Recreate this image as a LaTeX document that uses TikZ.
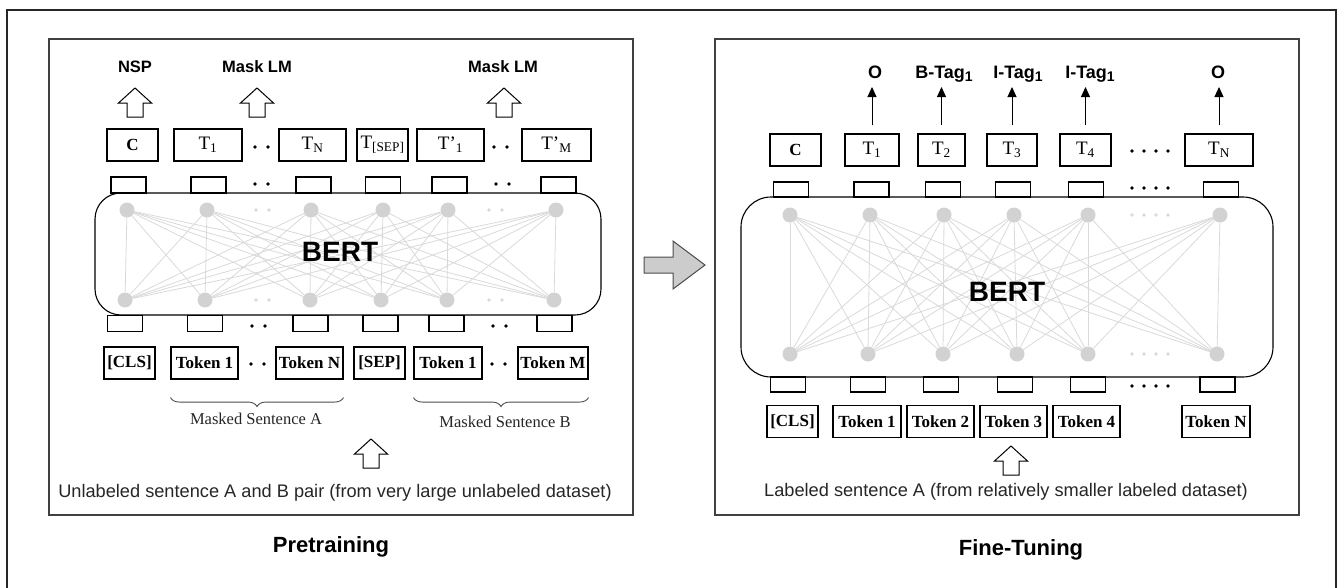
\documentclass[tikz,border=0pt]{standalone}
\usepackage{fontspec}
\setmainfont{Liberation Serif}
\setsansfont{Liberation Sans}
\usetikzlibrary{positioning,calc,arrows.meta,decorations.pathreplacing}

\tikzset{
	tbox/.style={draw, line width=1.1pt, minimum height=32pt, inner sep=0pt, font=\fontsize{17}{18}\selectfont},
	tlab/.style={tbox, font=\fontsize{19}{20}\selectfont},
	port/.style={draw, line width=1.1pt, minimum width=35pt, minimum height=16pt, inner sep=0pt},
	neuron/.style={circle, fill=gray!35, minimum size=15pt, inner sep=0pt},
	link/.style={gray!30, line width=0.8pt},
	bertbox/.style={draw, line width=1.1pt, rounded corners=26pt, inner sep=0pt},
	berttext/.style={font=\sffamily\bfseries\fontsize{28}{30}\selectfont},
	panel/.style={draw=black!75, line width=1.2pt, inner sep=0pt},
	headlab/.style={font=\sffamily\bfseries\fontsize{16.5}{18}\selectfont},
	taglab/.style={font=\sffamily\bfseries\fontsize{18}{20}\selectfont},
	intext/.style={font=\sffamily\fontsize{18.2}{20}\selectfont, text=black!85},
	subcap/.style={font=\fontsize{16.5}{18}\selectfont, text=black!85},
	caption/.style={font=\sffamily\bfseries\fontsize{22}{24}\selectfont},
	blockarr/.style={draw, line width=1pt, fill=white, line join=miter},
	tagarr/.style={-{Triangle[length=10pt,width=9pt]}, line width=1pt, shorten >=9pt},
	brace/.style={decorate, decoration={brace, mirror, amplitude=9pt}, line width=0.9pt, black!70}
}

% hollow block arrow pointing up, #1 = bottom centre
\newcommand{\hollowup}[1]{%
	\draw[blockarr] (#1) ++(-8,0) -- ++(0,-14) -- ++(-8.5,0) -- ++(16.5,-15) -- ++(16.5,15) -- ++(-8.5,0) -- ++(0,14) -- cycle;}
% a row of dots: x, y, count, colour, spacing
\newcommand{\dotrow}[5]{%
	\foreach \k in {1,...,#3} \fill[#4] ({#1+(\k-1)*#5},#2) circle (1.8pt);}
% tag subscript
\newcommand{\tagsub}{\raisebox{-0.35ex}{\fontsize{14}{14}\selectfont 1}}

\begin{document}
\begin{tikzpicture}[x=1pt, y=-1pt]
	\useasboundingbox (0,0) rectangle (1342,587);
	\draw[line width=1.5pt, black!85] (7,600) -- (7,10) -- (1336,10) -- (1336,600);

	% ---------- pretraining ----------
	\begin{scope}
		\node[panel, minimum width=584pt, minimum height=476pt] (lpanel) at (341,277) {};

		\node[headlab] (nsp) at (135,67) {NSP};
		\node[headlab] (mlm1) at (257,67) {Mask LM};
		\node[headlab] (mlm2) at (503,67) {Mask LM};
		\coordinate (nspin) at (135,117);
		\coordinate (mlm1in) at (257,117);
		\coordinate (mlm2in) at (504,117);
		\hollowup{nspin}
		\hollowup{mlm1in}
		\hollowup{mlm2in}

		\node[tbox, minimum width=51pt] (lc) at (132.5,145) {\textbf{C}};
		\node[tlab, minimum width=68pt] (lt1) at (208,145) {T\textsubscript{1}};
		\node[tlab, minimum width=67pt] (ltn) at (312.5,145) {T\textsubscript{N}};
		\node[tlab, minimum width=51pt] (ltsep) at (382.5,145) {T\textsubscript{[SEP]}};
		\node[tlab, minimum width=67pt] (ltp1) at (450.5,145) {T'\textsubscript{1}};
		\node[tlab, minimum width=69pt] (ltpm) at (556.5,145) {T'\textsubscript{M}};

		\foreach \i/\x in {1/128.5, 2/208.5, 3/313.5, 4/383, 5/449.5, 6/558.5}
			\node[port] (lpu\i) at (\x,185) {};

		\node[bertbox, minimum width=506pt, minimum height=122pt] (lbert) at (348,254) {};

		\foreach \i/\x in {1/127, 2/207, 3/311, 4/383, 5/448, 6/556}
			\node[neuron] (lu\i) at (\x,210) {};
		\foreach \i/\x in {1/125, 2/205, 3/310, 4/381, 5/447, 6/554}
			\node[neuron] (ld\i) at (\x,300) {};
		\foreach \i in {1,...,6}
			\foreach \j in {1,...,6}
				\draw[link] (lu\i) -- (ld\j);
		\node[berttext] (lberttxt) at (340,252) {BERT};

		\foreach \i/\x in {1/125, 2/205, 3/310.5, 4/380.5, 5/446.5, 6/554.5}
			\node[port] (lpd\i) at (\x,323.5) {};

		\node[tbox, minimum width=51pt] (lcls) at (129.5,363) {\textbf{[CLS]}};
		\node[tbox, minimum width=67pt] (ltok1) at (204.5,363) {\textbf{Token 1}};
		\node[tbox, minimum width=67pt] (ltokn) at (309.5,363) {\textbf{Token N}};
		\node[tbox, minimum width=51pt] (lsep) at (379.5,363) {\textbf{[SEP]}};
		\node[tbox, minimum width=68pt] (ltokb1) at (448,363) {\textbf{Token 1}};
		\node[tbox, minimum width=70pt] (ltokm) at (553,363) {\textbf{Token M}};

		% dots
		\dotrow{255}{147}{2}{black}{13}
		\dotrow{494}{147}{2}{black}{13}
		\dotrow{255}{184}{2}{black}{13}
		\dotrow{496}{184}{2}{black}{13}
		\dotrow{256}{210}{2}{gray!30}{13}
		\dotrow{489}{210}{2}{gray!30}{13}
		\dotrow{256}{300}{2}{gray!30}{13}
		\dotrow{489}{300}{2}{gray!30}{13}
		\dotrow{252}{326}{2}{black}{13}
		\dotrow{493}{326}{2}{black}{13}
		\dotrow{251}{364}{2}{black}{13}
		\dotrow{492}{364}{2}{black}{13}

		\draw[brace] ([yshift=-18pt]ltok1.south west) -- ([yshift=-18pt]ltokn.south east);
		\draw[brace] ([yshift=-18pt]ltokb1.south west) -- ([yshift=-18pt]ltokm.south east);
		\node[subcap] (lsenta) at (256,419) {Masked Sentence A};
		\node[subcap] (lsentb) at (505,422) {Masked Sentence B};

		\coordinate (lin) at (371,468);
		\hollowup{lin}
		\node[intext] (lintxt) at (335,493) {Unlabeled sentence A and B pair (from very large unlabeled dataset)};

		\node[caption] (pre) at (331,547) {Pretraining};
	\end{scope}

	% transfer arrow
	\draw[fill=gray!40, draw=black!70, line width=1pt] (644,257) -- (673,257) -- (673,241) -- (705,265) -- (673,289) -- (673,273) -- (644,273) -- cycle;

	% ---------- fine-tuning ----------
	\begin{scope}
		\node[panel, minimum width=584pt, minimum height=476pt] (rpanel) at (1007,277) {};

		\node[taglab, anchor=base] (tag1) at (875,78) {O};
		\node[taglab, anchor=base] (tag2) at (944,78) {B-Tag\tagsub};
		\node[taglab, anchor=base] (tag3) at (1018,78) {I-Tag\tagsub};
		\node[taglab, anchor=base] (tag4) at (1090,78) {I-Tag\tagsub};
		\node[taglab, anchor=base] (tag5) at (1218,78) {O};

		\node[tbox, minimum width=51pt] (rc) at (795.5,150) {\textbf{C}};
		\node[tlab, minimum width=54pt] (rt1) at (872,150) {T\textsubscript{1}};
		\node[tlab, minimum width=47pt] (rt2) at (941.5,150) {T\textsubscript{2}};
		\node[tlab, minimum width=50pt] (rt3) at (1012,150) {T\textsubscript{3}};
		\node[tlab, minimum width=51pt] (rt4) at (1085.5,150) {T\textsubscript{4}};
		\node[tlab, minimum width=68pt] (rtn) at (1219,150) {T\textsubscript{N}};

		\draw[tagarr] ([yshift=8pt]rt1.north) -- (rt1.north |- tag1.base);
		\draw[tagarr] ([yshift=8pt]rt2.north) -- (rt2.north |- tag2.base);
		\draw[tagarr] ([yshift=8pt]rt3.north) -- (rt3.north |- tag3.base);
		\draw[tagarr] ([yshift=8pt]rt4.north) -- (rt4.north |- tag4.base);
		\draw[tagarr] ([yshift=8pt]rtn.north) -- (rtn.north |- tag5.base);

		\foreach \i/\x in {1/791, 2/871.5, 3/943, 4/1013, 5/1086, 6/1221}
			\node[port, minimum height=15pt] (rpu\i) at (\x,189.5) {};

		\node[bertbox, rounded corners=30pt, minimum width=532pt, minimum height=180pt] (rbert) at (1007,287) {};

		\foreach \i/\x in {1/790, 2/870, 3/944, 4/1014, 5/1088, 6/1220}
			\node[neuron] (ru\i) at (\x,215) {};
		\foreach \i/\x in {1/790, 2/868, 3/943, 4/1017, 5/1088, 6/1217}
			\node[neuron] (rd\i) at (\x,354) {};
		\foreach \i in {1,...,6}
			\foreach \j in {1,...,6}
				\draw[link] (ru\i) -- (rd\j);
		\node[berttext] (rberttxt) at (1007,292) {BERT};

		\foreach \i/\x in {1/788, 2/868, 3/941, 4/1015, 5/1088, 6/1217.5}
			\node[port, minimum height=15pt] (rpd\i) at (\x,384.5) {};

		\node[tbox, minimum width=51pt] (rcls) at (792.5,421.5) {\textbf{[CLS]}};
		\node[tbox, minimum width=68pt] (rtok1) at (867,421.5) {\textbf{Token 1}};
		\node[tbox, minimum width=67pt] (rtok2) at (940.5,421.5) {\textbf{Token 2}};
		\node[tbox, minimum width=67pt] (rtok3) at (1013.5,421.5) {\textbf{Token 3}};
		\node[tbox, minimum width=67pt] (rtok4) at (1086.5,421.5) {\textbf{Token 4}};
		\node[tbox, minimum width=68pt] (rtokn) at (1216,421.5) {\textbf{Token N}};

		% dots
		\dotrow{1132}{151}{4}{black}{12}
		\dotrow{1132}{188}{4}{black}{12}
		\dotrow{1132}{215}{4}{gray!30}{12}
		\dotrow{1132}{354}{4}{gray!30}{12}
		\dotrow{1132}{386}{4}{black}{12}

		\coordinate (rin) at (1011,475);
		\hollowup{rin}
		\node[intext] (rintxt) at (1006,492) {Labeled sentence A (from relatively smaller labeled dataset)};

		\node[caption] (fine) at (1021,550) {Fine-Tuning};
	\end{scope}
\end{tikzpicture}
\end{document}
